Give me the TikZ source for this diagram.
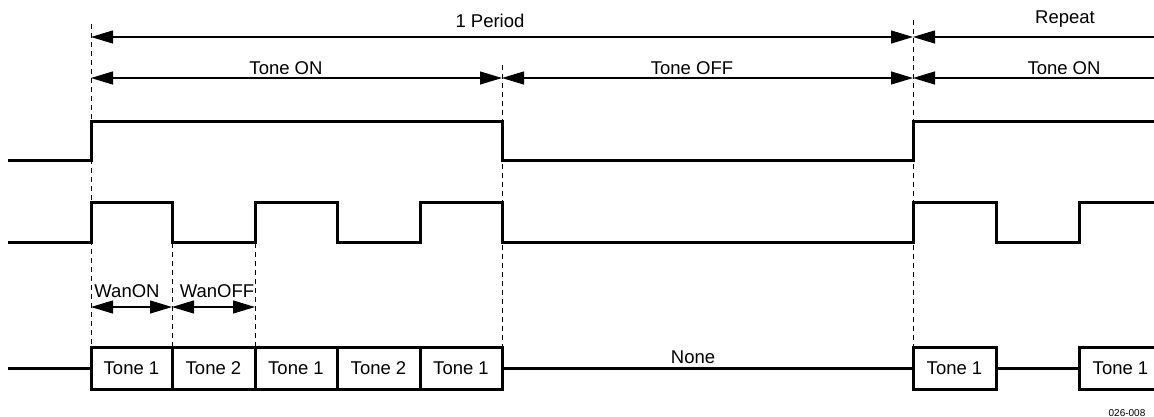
\documentclass[tikz,border=0pt]{standalone}
\usepackage{fontspec}
\setmainfont{Liberation Sans}
\usetikzlibrary{arrows.meta}
\begin{document}
\begin{tikzpicture}[x=1pt,y=-1pt,
  wave/.style={line width=3pt, line join=miter},
  guide/.style={line width=1pt, dash pattern=on 5pt off 4pt},
  dim/.style={line width=1.1pt, >={Triangle[length=22pt,width=13pt]}},
  lbl/.style={font=\fontsize{18.5}{21}\selectfont, inner sep=0pt, anchor=base},
  tonebox/.style={draw, line width=3pt, minimum height=42pt, inner sep=0pt, outer sep=0pt,
    fill=white, font=\fontsize{18.5}{21}\selectfont, text height=13pt, text depth=0pt}
]
\useasboundingbox (0,0) rectangle (1154,416);
\clip (0,0) rectangle (1154,416);

% coordinates for dimension arrows
\coordinate (p0) at (91,37);
\coordinate (p1) at (913,37);
\coordinate (pE) at (1156,37);
\coordinate (q0) at (91,78);
\coordinate (q1) at (502,78);
\coordinate (q2) at (913,78);
\coordinate (qE) at (1156,78);
\coordinate (w0) at (91,307);
\coordinate (w1) at (172,307);
\coordinate (w2) at (255,307);

% guide tops
\coordinate (g0) at (91,24);
\coordinate (g1) at (172,243);
\coordinate (g2) at (255,243);
\coordinate (g3) at (502,65);
\coordinate (g4) at (913,20);

% tone boxes
\node[tonebox, minimum width=81pt] (b1) at (131.5,368) {Tone 1};
\node[tonebox, minimum width=83pt] (b2) at (213.5,368) {Tone 2};
\node[tonebox, minimum width=82pt] (b3) at (296,368) {Tone 1};
\node[tonebox, minimum width=83pt] (b4) at (378.5,368) {Tone 2};
\node[tonebox, minimum width=82pt] (b5) at (461,368) {Tone 1};
\node[tonebox, minimum width=83pt] (b6) at (954.5,368) {Tone 1};
\node[tonebox, minimum width=83pt] (b7) at (1120.5,368) {Tone 1};
\coordinate (r3s) at (8,368);

% dashed guides
\draw[guide] (g0) -- (b1.north west);
\draw[guide] (g1) -- (b2.north west);
\draw[guide] (g2) -- (b3.north west);
\draw[guide] (g3) -- (b5.north east);
\draw[guide] (g4) -- (b6.north west);

% dimension arrows
\draw[dim, <->] (p0) -- (p1);
\draw[dim, <-] (p1) -- (pE);
\draw[dim, <->] (q0) -- (q1);
\draw[dim, <->] (q1) -- (q2);
\draw[dim, <-] (q2) -- (qE);
\draw[dim, <->] (w0) -- (w1);
\draw[dim, <->] (w1) -- (w2);

% waveforms
\draw[wave] (8,160) -- (91,160) -- (91,121) -- (502,121) -- (502,160) -- (913,160) -- (913,121) -- (1160,121);
\draw[wave] (8,242) -- (91,242) -- (91,202) -- (172,202) -- (172,242) -- (255,242) -- (255,202)
  -- (337,202) -- (337,242) -- (420,242) -- (420,202) -- (502,202) -- (502,242) -- (913,242)
  -- (913,202) -- (996,202) -- (996,242) -- (1079,242) -- (1079,202) -- (1160,202);

% tone row connecting lines
\draw[wave] (r3s) -- (b1.west);
\draw[wave] (b5.east) -- (b6.west);
\draw[wave] (b6.east) -- (b7.west);

% labels
\node[lbl] (period) at (490,27.5) {1 Period};
\node[lbl] (repeat) at (1065,23.5) {Repeat};
\node[lbl] (ton1) at (286,74.5) {Tone ON};
\node[lbl] (toff) at (692,74.5) {Tone OFF};
\node[lbl] (ton2) at (1064,74.5) {Tone ON};
\node[lbl] (wanon) at (127,297) {WanON};
\node[lbl] (wanoff) at (217,297) {WanOFF};
\node[lbl] (none) at (693,363) {None};
\node[font=\fontsize{10}{12}\selectfont, inner sep=0pt, anchor=base] (code) at (1127,416) {026-008};
\end{tikzpicture}
\end{document}
